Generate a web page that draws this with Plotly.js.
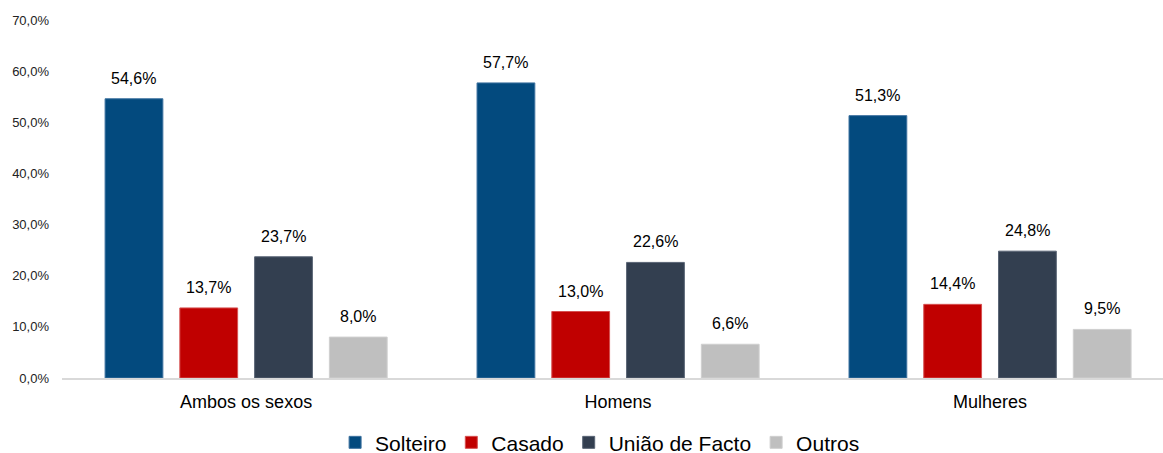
<!DOCTYPE html>
<html>
<head>
<meta charset="utf-8">
<script src="https://cdn.plot.ly/plotly-3.0.1.min.js"></script>
<style>html,body{margin:0;padding:0;background:#fff;}#chart{width:1163px;height:453px;}</style>
</head>
<body>
<div id="chart"></div>
<script>
var categories = ["Ambos os sexos", "Homens", "Mulheres"];
var seriesNames = ["Solteiro", "Casado", "União de Facto", "Outros"];
var solteiro = [54.6, 57.7, 51.3];
var casado = [13.7, 13.0, 14.4];
var uniao = [23.7, 22.6, 24.8];
var outros = [8.0, 6.6, 9.5];
var yTicks = [0, 10, 20, 30, 40, 50, 60, 70];

var seriesValues = [solteiro, casado, uniao, outros];
var colors = ["#034A7E", "#C00000", "#333F50", "#BFBFBF"];
var lineColors = ["#3F73A0", "#D65050", "#5A6575", "#CFCFCF"];

var bargap = 0.196, bargroupgap = 0.227;

function fmt(v) { return v.toFixed(1).replace('.', ',') + '%'; }

var traces = seriesValues.map(function (vals, j) {
  return {
    type: 'bar',
    name: seriesNames[j],
    x: categories,
    y: vals,
    marker: { color: colors[j], line: { color: lineColors[j], width: 1 } },
    hoverinfo: 'x+y+name'
  };
});

var annotations = [];
var slot = (1 - bargap) / seriesValues.length;
seriesValues.forEach(function (vals, j) {
  vals.forEach(function (v, i) {
    annotations.push({
      x: i + (j - (seriesValues.length - 1) / 2) * slot,
      y: v,
      xref: 'x', yref: 'y',
      text: fmt(v),
      showarrow: false,
      yanchor: 'bottom',
      yshift: 10,
      font: { family: 'Liberation Sans, Arial, sans-serif', size: 16, color: '#000' }
    });
  });
});

var layout = {
  width: 1163, height: 453,
  margin: { l: 62, r: 0, t: 20, b: 75, pad: 0 },
  paper_bgcolor: '#fff', plot_bgcolor: '#fff',
  separators: ',.',
  barmode: 'group',
  bargap: bargap,
  bargroupgap: bargroupgap,
  font: { family: 'Liberation Sans, Arial, sans-serif', color: '#000' },
  xaxis: {
    type: 'category',
    range: [-0.495, 2.465],
    showline: true, linecolor: '#D9D9D9', linewidth: 2,
    ticks: '', showgrid: false, zeroline: false,
    ticklabelstandoff: 6,
    tickfont: { size: 18, color: '#000' }
  },
  yaxis: {
    range: [0, 70],
    tickvals: yTicks,
    ticktext: yTicks.map(function (t) { return t.toFixed(1).replace('.', ',') + '%'; }),
    showgrid: false, zeroline: false, showline: false,
    ticks: '', ticklabelstandoff: 12,
    tickfont: { size: 13, color: '#222' }
  },
  showlegend: true,
  legend: {
    orientation: 'h',
    xref: 'container', yref: 'container',
    x: 0.516, xanchor: 'center',
    y: 0.068, yanchor: 'top',
    font: { size: 21, color: '#000' },
    itemwidth: 30,
    traceorder: 'normal'
  },
  annotations: annotations
};

Plotly.newPlot('chart', traces, layout, { displayModeBar: false, staticPlot: true });
</script>
</body>
</html>
